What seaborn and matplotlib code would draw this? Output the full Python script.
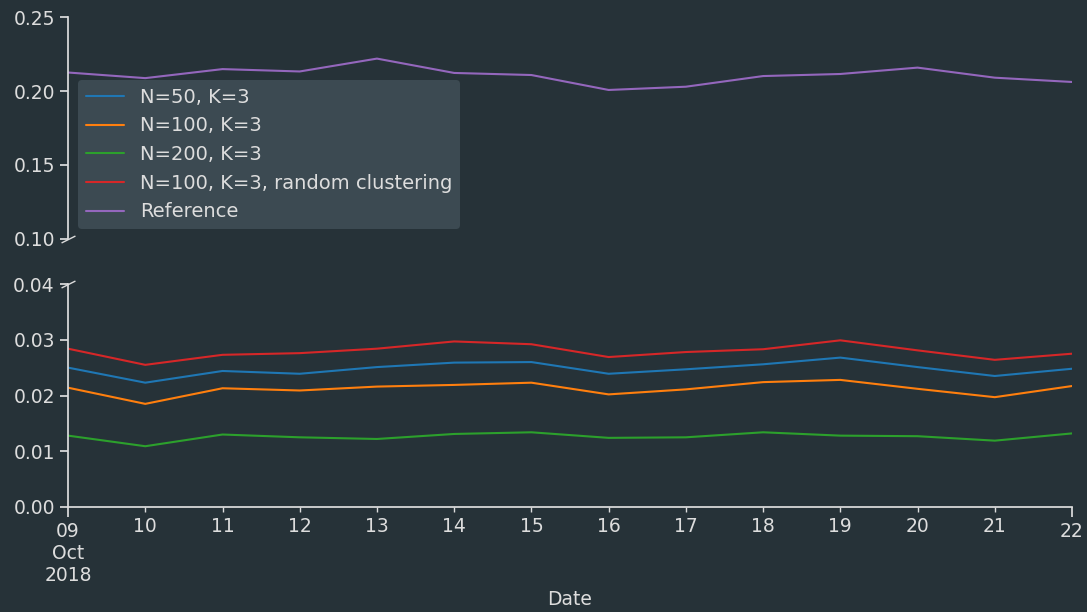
import matplotlib
matplotlib.use('Agg')
import matplotlib.pyplot as plt
import matplotlib.dates as mdates
import matplotlib.ticker as mticker
import pandas as pd
import seaborn as sns

# daily values
dates = ["2018-10-09", "2018-10-10", "2018-10-11", "2018-10-12", "2018-10-13",
         "2018-10-14", "2018-10-15", "2018-10-16", "2018-10-17", "2018-10-18",
         "2018-10-19", "2018-10-20", "2018-10-21", "2018-10-22"]
n50_k3 = [0.0250, 0.0223, 0.0244, 0.0239, 0.0251, 0.0259, 0.0260,
          0.0239, 0.0247, 0.0256, 0.0268, 0.0251, 0.0235, 0.0248]
n100_k3 = [0.0214, 0.0185, 0.0213, 0.0209, 0.0216, 0.0219, 0.0223,
           0.0202, 0.0211, 0.0224, 0.0228, 0.0212, 0.0197, 0.0217]
n200_k3 = [0.0128, 0.0109, 0.0130, 0.0125, 0.0122, 0.0131, 0.0134,
           0.0124, 0.0125, 0.0134, 0.0128, 0.0127, 0.0119, 0.0132]
n100_k3_random = [0.0284, 0.0255, 0.0273, 0.0276, 0.0284, 0.0297, 0.0292,
                  0.0269, 0.0278, 0.0283, 0.0299, 0.0281, 0.0264, 0.0275]
reference = [0.2125, 0.2087, 0.2148, 0.2132, 0.2219, 0.2122, 0.2108,
             0.2007, 0.2029, 0.2101, 0.2115, 0.2158, 0.2090, 0.2061]

series_names = ["N=50, K=3", "N=100, K=3", "N=200, K=3",
                "N=100, K=3, random clustering", "Reference"]
major_labels = ["09\nOct\n2018", "22"]
minor_labels = ["10", "11", "12", "13", "14", "15", "16", "17", "18", "19", "20", "21"]

bg = "#263238"
fg = "#dddddd"

sns.set_theme(style="ticks", rc={
    "figure.facecolor": bg, "axes.facecolor": bg, "savefig.facecolor": bg,
    "axes.edgecolor": fg, "axes.labelcolor": fg, "text.color": fg,
    "xtick.color": fg, "ytick.color": fg, "font.size": 13.5,
    "axes.labelsize": 13.5, "xtick.labelsize": 13.5, "ytick.labelsize": 13.5,
    "legend.fontsize": 14,
})
plt.rcParams["font.family"] = ["DejaVu Sans"]

df = pd.DataFrame({"Date": pd.to_datetime(dates)})
for name, vals in zip(series_names, [n50_k3, n100_k3, n200_k3, n100_k3_random, reference]):
    df[name] = vals
df = df.melt(id_vars="Date", var_name="series", value_name="value")
palette = dict(zip(series_names, sns.color_palette("tab10", 5)))

fig = plt.figure(figsize=(10.87, 6.12), dpi=100)
ax_top = fig.add_axes([0.0626, 0.6095, 0.9236, 0.3627])
ax_bot = fig.add_axes([0.0626, 0.1716, 0.9236, 0.3643], sharex=ax_top)

for ax in (ax_top, ax_bot):
    sns.lineplot(data=df, x="Date", y="value", hue="series", hue_order=series_names,
                 palette=palette, linewidth=1.5, ax=ax, legend=(ax is ax_top))
    ax.set_ylabel("")
    ax.spines["top"].set_visible(False)
    ax.spines["right"].set_visible(False)

ax_top.set_ylim(0.10, 0.25)
ax_top.set_yticks([0.10, 0.15, 0.20, 0.25])
ax_bot.set_ylim(0.0, 0.04)
ax_bot.set_yticks([0.00, 0.01, 0.02, 0.03, 0.04])
for ax in (ax_top, ax_bot):
    ax.yaxis.set_major_formatter(mticker.FormatStrFormatter("%.2f"))

d = mdates.date2num(pd.to_datetime(dates))
ax_bot.set_xlim(d[0], d[-1])
ax_bot.xaxis.set_major_locator(mticker.FixedLocator([d[0], d[-1]]))
ax_bot.xaxis.set_major_formatter(mticker.FixedFormatter(major_labels))
ax_bot.xaxis.set_minor_locator(mticker.FixedLocator(d[1:-1]))
ax_bot.xaxis.set_minor_formatter(mticker.FixedFormatter(minor_labels))
ax_bot.tick_params(axis="x", which="major", length=7, labelsize=13.5, colors=fg)
ax_bot.tick_params(axis="x", which="minor", length=3.5, labelsize=13.5, colors=fg)
ax_bot.set_xlabel("Date")

ax_top.spines["bottom"].set_visible(False)
ax_top.tick_params(axis="x", which="both", bottom=False, labelbottom=False)
ax_top.set_xlabel("")

# break marks
kw = dict(marker=[(-1, -0.5), (1, 0.5)], markersize=10, linestyle="none",
          color=fg, mec=fg, mew=1, clip_on=False)
ax_top.plot([0], [0], transform=ax_top.transAxes, **kw)
ax_bot.plot([0], [1], transform=ax_bot.transAxes, **kw)

handles, labels = ax_top.get_legend_handles_labels()
leg = ax_top.legend(handles=handles, labels=labels, loc="lower left",
                    facecolor="#3f4d55", edgecolor="none", framealpha=0.9,
                    labelspacing=0.5)
for t in leg.get_texts():
    t.set_color(fg)

fig.savefig("out.png", dpi=100, facecolor=bg)
